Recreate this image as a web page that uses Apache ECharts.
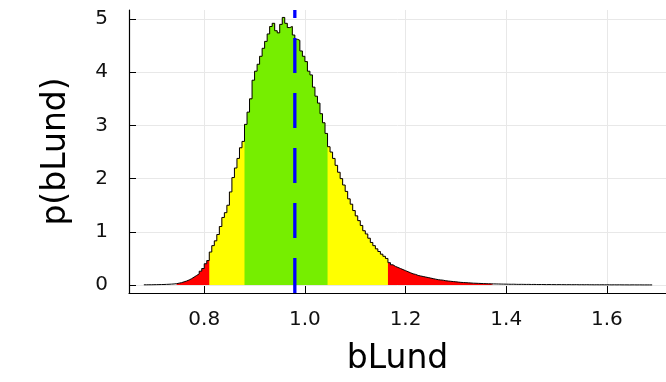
<!DOCTYPE html>
<html>
<head>
<meta charset="utf-8">
<script src="https://cdn.jsdelivr.net/npm/echarts@6/dist/echarts.min.js"></script>
<style>
  html, body { margin: 0; padding: 0; background: #fff; }
  #chart { width: 666px; height: 382px; }
</style>
</head>
<body>
<div id="chart"></div>
<script>
// histogram of bLund, bins of 0.005 starting at 0.68
var binStart = 0.68
var binWidth = 0.005
var density = [
  // 0.680 - 0.735
  0.004, 0.005, 0.005, 0.006, 0.007, 0.008, 0.009, 0.010, 0.012, 0.014, 0.017, 0.020,
  // 0.740 - 0.795
  0.025, 0.035, 0.045, 0.06, 0.075, 0.095, 0.12, 0.15, 0.18, 0.21, 0.26, 0.31,
  // 0.800 - 0.845
  0.40, 0.46, 0.62, 0.74, 0.83, 0.95, 1.10, 1.27, 1.36, 1.50,
  // 0.850 - 0.895
  1.75, 2.02, 2.20, 2.38, 2.58, 2.70, 3.02, 3.25, 3.50, 3.85,
  // 0.900 - 0.945
  4.02, 4.15, 4.30, 4.45, 4.58, 4.72, 4.86, 4.92, 4.78, 4.74,
  // 0.950 - 0.995
  4.90, 5.03, 4.92, 4.84, 4.86, 4.70, 4.62, 4.60, 4.40, 4.30,
  // 1.000 - 1.045
  4.20, 4.02, 3.95, 3.72, 3.55, 3.42, 3.22, 3.05, 2.85, 2.60,
  // 1.050 - 1.095
  2.50, 2.38, 2.25, 2.12, 2.00, 1.88, 1.76, 1.62, 1.52, 1.40,
  // 1.100 - 1.145
  1.30, 1.21, 1.12, 1.02, 0.96, 0.88, 0.80, 0.74, 0.68, 0.63,
  // 1.150 - 1.195
  0.58, 0.54, 0.50, 0.42, 0.38, 0.35, 0.33, 0.31, 0.29, 0.27,
  // 1.200 - 1.245
  0.25, 0.23, 0.21, 0.20, 0.18, 0.17, 0.16, 0.15, 0.14, 0.13,
  // 1.250 - 1.295
  0.12, 0.11, 0.10, 0.095, 0.09, 0.08, 0.075, 0.07, 0.065, 0.06,
  // 1.300 - 1.345
  0.055, 0.05, 0.047, 0.044, 0.041, 0.038, 0.035, 0.033, 0.031, 0.029,
  // 1.350 - 1.395
  0.027, 0.025, 0.024, 0.022, 0.021, 0.020, 0.019, 0.018, 0.017, 0.016,
  // 1.400 - 1.685
  0.015, 0.014, 0.015, 0.013, 0.012, 0.013, 0.012, 0.011, 0.012, 0.010,
  0.011, 0.010, 0.009, 0.010, 0.009, 0.008, 0.009, 0.008, 0.008, 0.007,
  0.008, 0.007, 0.007, 0.006, 0.007, 0.006, 0.006, 0.007, 0.005, 0.006,
  0.005, 0.006, 0.005, 0.005, 0.004, 0.005, 0.004, 0.005, 0.004, 0.004,
  0.004, 0.003, 0.004, 0.003, 0.004, 0.003, 0.003, 0.003, 0.002, 0.003,
  0.003, 0.002, 0.003, 0.002, 0.002, 0.002, 0.002, 0.002
]

// credible bands (lo, hi) and the marked value
var redBand = [0.745, 1.375]
var yellowBand = [0.81, 1.165]
var greenBand = [0.88, 1.045]
var bLundMark = 0.98

var xTicks = [0.8, 1.0, 1.2, 1.4, 1.6]
var yTicks = [0, 1, 2, 3, 4, 5]
var xRange = [0.6505, 1.7175]
var yRange = [-0.15, 5.17]

var edges = density.map(function(d, i) {
  return +(binStart + i * binWidth).toFixed(3)
})

// points for a step line over the bins inside [lo, hi]
function stepData(lo, hi) {
  var pts = []
  var last = null
  density.forEach(function(d, i) {
    var a = edges[i]
    var b = +(a + binWidth).toFixed(3)
    if (a >= lo - 1e-9 && b <= hi + 1e-9) {
      pts.push([a, d])
      last = [b, d]
    }
  })
  if (last) pts.push(last)
  return pts
}

function bandSeries(band, color, z) {
  return {
    type: 'line',
    step: 'end',
    symbol: 'none',
    silent: true,
    z: z,
    lineStyle: { width: 0 },
    areaStyle: { color: color, opacity: 1 },
    data: stepData(band[0], band[1])
  }
}

var font = 'DejaVu Sans'
var chart = echarts.init(document.getElementById('chart'))
chart.setOption({
  animation: false,
  grid: {
    left: 129, right: 0, top: 10, bottom: 89,
    containLabel: false,
    outerBoundsMode: 'none'
  },
  xAxis: {
    type: 'value',
    min: xRange[0],
    max: xRange[1],
    name: 'bLund',
    nameLocation: 'middle',
    nameGap: 50,
    nameTextStyle: { fontFamily: font, fontSize: 33, color: '#000' },
    axisLine: { onZero: false, lineStyle: { color: '#000', width: 1.2 } },
    axisTick: { inside: true, length: 7, customValues: xTicks, lineStyle: { color: '#000' } },
    axisLabel: {
      customValues: xTicks,
      margin: 17,
      fontFamily: font,
      fontSize: 20,
      color: '#111',
      formatter: function(v) { return v.toFixed(1) }
    },
    splitLine: { show: true, lineStyle: { color: '#e8e8e8', width: 1 } }
  },
  yAxis: {
    type: 'value',
    min: yRange[0],
    max: yRange[1],
    name: 'p(bLund)',
    nameLocation: 'middle',
    nameGap: 56,
    nameTextStyle: { fontFamily: font, fontSize: 33, color: '#000' },
    axisLine: { show: true, onZero: false, lineStyle: { color: '#000', width: 1.2 } },
    axisTick: { show: true, inside: true, length: 7, customValues: yTicks, lineStyle: { color: '#000' } },
    axisLabel: {
      customValues: yTicks,
      margin: 21,
      fontFamily: font,
      fontSize: 20,
      color: '#111',
      formatter: function(v) { return String(Math.round(v)) }
    },
    splitLine: { show: true, lineStyle: { color: '#e8e8e8', width: 1 } }
  },
  series: [
    bandSeries(redBand, '#ff0000', 1),
    bandSeries(yellowBand, '#ffff00', 2),
    bandSeries(greenBand, '#76ee00', 3),
    {
      type: 'line',
      step: 'end',
      symbol: 'none',
      silent: true,
      z: 4,
      lineStyle: { color: '#000', width: 1 },
      data: stepData(edges[0], 99)
    },
    {
      type: 'line',
      symbol: 'none',
      silent: true,
      z: 5,
      lineStyle: { color: '#0000ff', width: 3.3, type: [35, 20] },
      data: [[bLundMark, yRange[0]], [bLundMark, yRange[1]]]
    }
  ]
})
</script>
</body>
</html>
